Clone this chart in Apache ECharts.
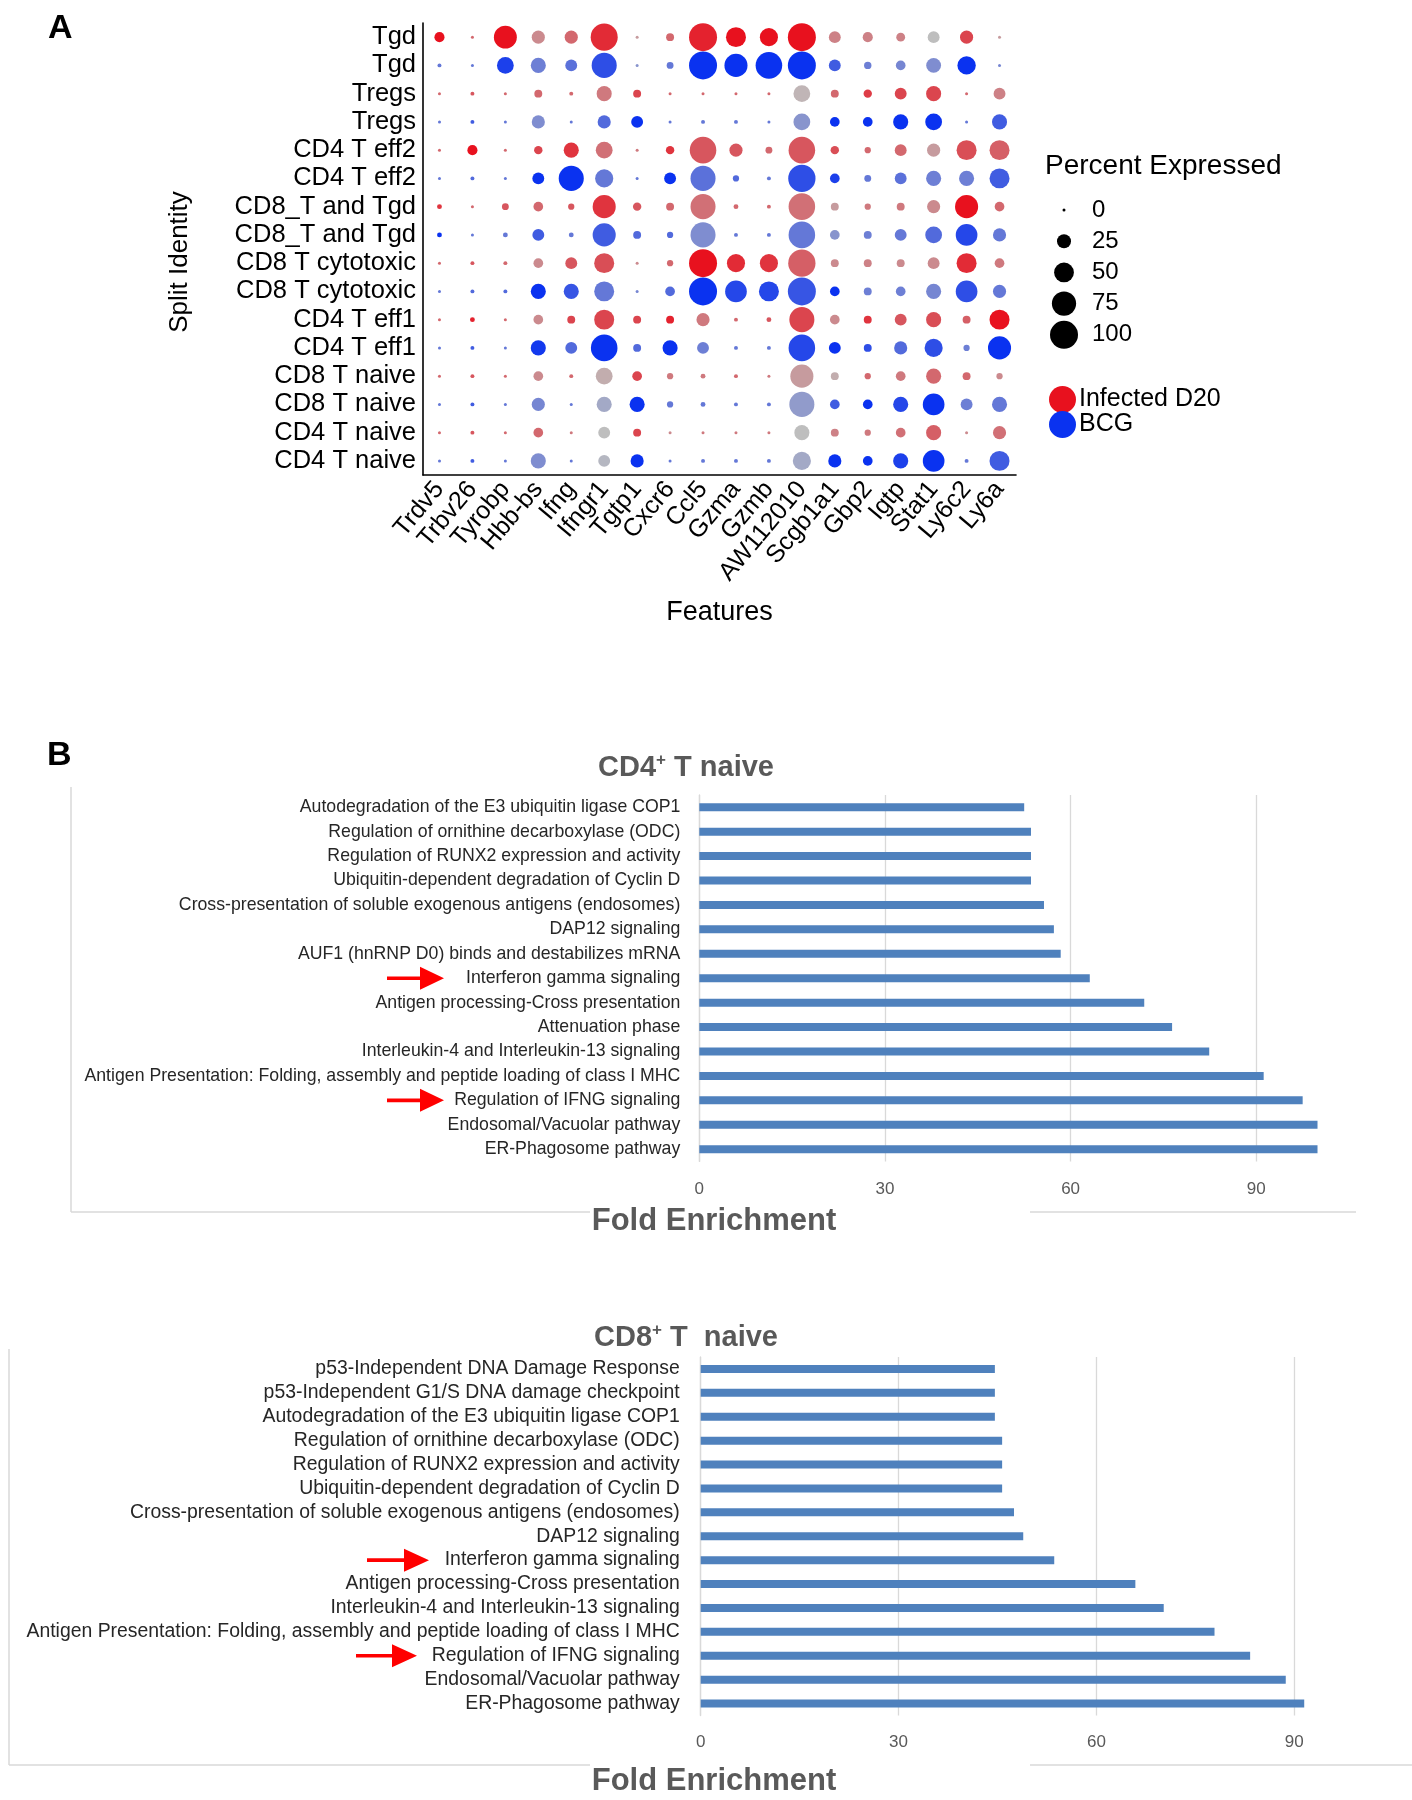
<!DOCTYPE html>
<html><head><meta charset="utf-8">
<script src="https://cdn.jsdelivr.net/npm/echarts@6/dist/echarts.min.js"></script>
<style>html,body{margin:0;padding:0;background:#fff}#c{width:1412px;height:1800px}</style>
</head><body><div id="c"></div>
<script>
// ---------- Panel A data ----------
const features = ['Trdv5','Trbv26','Tyrobp','Hbb-bs','Ifng','Ifngr1','Tgtp1','Cxcr6','Ccl5','Gzma','Gzmb','AW112010','Scgb1a1','Gbp2','Igtp','Stat1','Ly6c2','Ly6a'];
const cellTypes = ['Tgd','Tregs','CD4 T eff2','CD8_T and Tgd','CD8 T cytotoxic','CD4 T eff1','CD8 T naive','CD4 T naive'];
const groups = ['Infected D20','BCG'];
// percent expressed (0-100), one row per cell type, one column per feature
const infectedPct = [
 [13,1,67,22,22,93,1,8,100,51,42,100,18,13,10,18,22,1],
 [1,2,1,8,2,29,8,1,1,1,1,36,8,9,18,29,1,18],
 [1,13,1,9,29,36,1,9,90,22,6,90,9,5,18,22,51,51],
 [3,1,6,12,5,68,9,8,80,3,2,90,8,5,8,22,68,12],
 [1,2,2,12,18,51,1,5,100,42,42,95,8,8,8,18,51,12],
 [1,3,1,12,8,51,8,8,22,2,3,80,12,8,18,29,8,51],
 [1,2,1,12,2,36,12,5,3,2,1,68,8,5,12,29,8,5],
 [1,2,1,12,1,18,8,1,1,1,1,29,8,5,12,29,1,22]
];
// scaled average expression (0 = grey, 1 = full colour)
const infectedExp = [
 [1,0.5,1,0.3,0.5,0.85,0.2,0.5,0.9,1,1,1,0.35,0.35,0.35,0,0.7,0.2],
 [0.5,0.6,0.5,0.5,0.5,0.4,0.7,0.5,0.5,0.5,0.5,0.05,0.5,0.75,0.7,0.7,0.5,0.35],
 [0.5,1,0.5,0.7,0.8,0.45,0.4,0.8,0.6,0.6,0.5,0.6,0.65,0.5,0.5,0.2,0.65,0.55],
 [0.8,0.5,0.6,0.5,0.6,0.8,0.6,0.5,0.45,0.5,0.5,0.45,0.2,0.4,0.4,0.3,1,0.5],
 [0.5,0.6,0.5,0.3,0.6,0.65,0.3,0.5,1,0.85,0.8,0.55,0.3,0.35,0.3,0.3,0.85,0.4],
 [0.5,0.9,0.5,0.3,0.7,0.7,0.7,0.9,0.4,0.5,0.6,0.7,0.3,0.8,0.6,0.65,0.55,1],
 [0.5,0.6,0.5,0.3,0.5,0.1,0.7,0.4,0.4,0.5,0.4,0.2,0.1,0.5,0.4,0.5,0.5,0.3],
 [0.5,0.6,0.5,0.5,0.4,0,0.7,0.3,0.4,0.4,0.4,0,0.35,0.4,0.45,0.55,0.3,0.45]
];
const bcgPct = [
 [2,1,36,29,18,80,1,6,100,68,90,100,18,7,12,28,43,1],
 [1,2,1,22,1,22,18,1,2,2,1,36,12,12,29,36,1,29],
 [1,2,1,18,80,42,1,18,80,5,2,95,12,6,18,29,29,51],
 [3,1,3,18,3,68,8,5,80,2,2,90,12,8,18,36,60,22],
 [1,2,2,29,29,51,1,12,100,60,51,100,12,8,12,29,60,22],
 [1,2,1,29,18,90,8,29,18,2,2,90,18,8,22,42,5,68],
 [1,2,1,22,1,29,29,5,3,2,2,80,12,12,29,60,18,29],
 [1,2,1,29,1,18,22,1,2,2,2,42,22,12,29,60,2,51]
];
const bcgExp = [
 [0.5,0.5,0.9,0.45,0.55,0.8,0.3,0.5,1,1,1,1,0.7,0.45,0.4,0.35,1,0.4],
 [0.5,0.7,0.5,0.35,0.5,0.6,1,0.5,0.5,0.5,0.5,0.3,1,1,1,1,0.5,0.7],
 [0.5,0.6,0.5,1,1,0.5,0.5,1,0.55,0.6,0.5,0.8,0.9,0.5,0.55,0.45,0.45,0.7],
 [1,0.5,0.5,0.7,0.5,0.7,0.6,0.6,0.35,0.5,0.5,0.5,0.3,0.45,0.5,0.6,0.85,0.5],
 [0.5,0.6,0.6,1,0.75,0.5,0.4,0.6,1,0.85,0.85,0.75,1,0.45,0.45,0.4,0.8,0.5],
 [0.5,0.7,0.5,0.95,0.6,1,0.6,1,0.45,0.5,0.5,0.85,1,0.8,0.6,0.8,0.45,1],
 [0.5,0.7,0.5,0.4,0.5,0.15,1,0.5,0.5,0.5,0.5,0.25,0.7,1,0.85,1,0.45,0.5],
 [0.5,0.7,0.5,0.35,0.5,0.05,1,0.5,0.5,0.5,0.5,0.15,1,1,0.9,1,0.5,0.7]
];
const sizeBreaks = [0,25,50,75,100];

// ---------- Panel B data ----------
const cd4Terms = ['Autodegradation of the E3 ubiquitin ligase COP1','Regulation of ornithine decarboxylase (ODC)','Regulation of RUNX2 expression and activity','Ubiquitin-dependent degradation of Cyclin D','Cross-presentation of soluble exogenous antigens (endosomes)','DAP12 signaling','AUF1 (hnRNP D0) binds and destabilizes mRNA','Interferon gamma signaling','Antigen processing-Cross presentation','Attenuation phase','Interleukin-4 and Interleukin-13 signaling','Antigen Presentation: Folding, assembly and peptide loading of class I MHC','Regulation of IFNG signaling','Endosomal/Vacuolar pathway','ER-Phagosome pathway'];
const cd4Fold = [52.5,53.6,53.6,53.6,55.7,57.3,58.4,63.1,71.9,76.4,82.4,91.2,97.5,99.9,99.9];
const cd8Terms = ['p53-Independent DNA Damage Response','p53-Independent G1/S DNA damage checkpoint','Autodegradation of the E3 ubiquitin ligase COP1','Regulation of ornithine decarboxylase (ODC)','Regulation of RUNX2 expression and activity','Ubiquitin-dependent degradation of Cyclin D','Cross-presentation of soluble exogenous antigens (endosomes)','DAP12 signaling','Interferon gamma signaling','Antigen processing-Cross presentation','Interleukin-4 and Interleukin-13 signaling','Antigen Presentation: Folding, assembly and peptide loading of class I MHC','Regulation of IFNG signaling','Endosomal/Vacuolar pathway','ER-Phagosome pathway'];
const cd8Fold = [44.6,44.6,44.6,45.7,45.7,45.7,47.5,48.9,53.6,65.9,70.2,77.9,83.3,88.7,91.5];
const arrowTerms = ['Interferon gamma signaling','Regulation of IFNG signaling'];

// ---------- helpers ----------
const FONT = 'Liberation Sans';
const GREY = [190,190,190], RED = [232,17,30], BLUE = [10,50,240];
function mix(c, t){ return 'rgb(' + c.map((v,i)=>Math.round(GREY[i] + (v-GREY[i])*t)).join(',') + ')'; }
function dia(p){ return Math.max(3, 28*Math.sqrt(p/100)); }
const rowLabels = [];
cellTypes.forEach(c => { rowLabels.push(c, c); });
function buildDots(pct, exp, off, col){
  const out = [];
  pct.forEach((row, r) => row.forEach((p, c) => out.push({value:[c, r*2+off, p, exp[r][c]], itemStyle:{color: mix(col, exp[r][c])}})));
  return out;
}

const chart = echarts.init(document.getElementById('c'), null, {renderer:'canvas'});

const sizeLegend = [];
sizeBreaks.forEach((b, i) => {
  const y = 210 + i*31.2;
  sizeLegend.push({type:'circle', shape:{cx:1064, cy:y, r:dia(b)/2}, style:{fill:'#000'}});
  sizeLegend.push({type:'text', x:1092, y:y, style:{text:String(b), fontSize:24, fontFamily:FONT, fill:'#000', textVerticalAlign:'middle'}});
});

const richTitle = {a:{fontSize:29, fontWeight:'bold', color:'#595959', fontFamily:FONT, lineHeight:32},
                   s:{fontSize:17, fontWeight:'bold', color:'#595959', fontFamily:FONT, verticalAlign:'top', lineHeight:17}};

const option = {
  animation:false,
  backgroundColor:'#fff',
  textStyle:{fontFamily:FONT},
  title:[
    {text:'A', left:48, top:12, padding:0, textStyle:{fontSize:34, fontWeight:'bold', color:'#000', fontFamily:FONT}},
    {text:'B', left:47, top:739, padding:0, textStyle:{fontSize:34, fontWeight:'bold', color:'#000', fontFamily:FONT}},
    {text:'{a|CD4}{s|+}{a| T naive}', left:686, top:752, padding:0, textAlign:'center', textStyle:{rich:richTitle}},
    {text:'{a|CD8}{s|+}{a| T  naive}', left:686, top:1322, padding:0, textAlign:'center', textStyle:{rich:richTitle}},
    {text:'Fold Enrichment', left:714, top:1206, padding:0, textAlign:'center', textStyle:{fontSize:31, fontWeight:'bold', color:'#595959', fontFamily:FONT}},
    {text:'Fold Enrichment', left:714, top:1766, padding:0, textAlign:'center', textStyle:{fontSize:31, fontWeight:'bold', color:'#595959', fontFamily:FONT}},
    {text:'Percent Expressed', left:1045, top:152, padding:0, textStyle:{fontSize:28, fontWeight:'normal', color:'#000', fontFamily:FONT}}
  ],
  legend:{data:groups, orient:'vertical', left:1044, top:381, itemWidth:27, itemHeight:27, itemGap:-2, icon:'circle',
    textStyle:{fontSize:25, color:'#000', fontFamily:FONT, padding:[0,0,0,-2]}},
  grid:[
    {left:423, top:23, width:593, height:452, outerBoundsMode:'none', containLabel:false},
    {left:699.3, top:795, width:742.6, height:366.4, outerBoundsMode:'none', containLabel:false},
    {left:700.7, top:1357, width:791.5, height:358.5, outerBoundsMode:'none', containLabel:false}
  ],
  xAxis:[
    {gridIndex:0, type:'category', data:features, name:'Features', nameLocation:'middle', nameGap:124,
      nameTextStyle:{fontSize:27, color:'#000', fontFamily:FONT},
      axisLine:{lineStyle:{color:'#000', width:1.6}}, axisTick:{alignWithLabel:true, length:6, lineStyle:{color:'#000', width:1.6}},
      axisLabel:{rotate:50, fontSize:25, color:'#000', margin:10, interval:0, fontFamily:FONT}, splitLine:{show:false}},
    {gridIndex:1, type:'value', min:0, max:120, interval:30, axisLine:{show:false}, axisTick:{show:false},
      splitLine:{lineStyle:{color:'#d9d9d9', width:1.3}}, axisLabel:{color:'#595959', fontSize:17, margin:19, fontFamily:FONT}},
    {gridIndex:2, type:'value', min:0, max:120, interval:30, axisLine:{show:false}, axisTick:{show:false},
      splitLine:{lineStyle:{color:'#d9d9d9', width:1.3}}, axisLabel:{color:'#595959', fontSize:17, margin:18, fontFamily:FONT}}
  ],
  yAxis:[
    {gridIndex:0, type:'category', data:rowLabels, inverse:true,
      axisLine:{lineStyle:{color:'#000', width:1.6}}, axisTick:{alignWithLabel:true, length:6, lineStyle:{color:'#000', width:1.6}},
      axisLabel:{fontSize:25.5, color:'#000', margin:7, interval:0, fontFamily:FONT}, splitLine:{show:false}},
    {gridIndex:1, type:'category', data:cd4Terms, inverse:true, axisLine:{lineStyle:{color:'#d9d9d9', width:1.3}}, axisTick:{show:false},
      axisLabel:{fontSize:17.7, color:'#262626', fontFamily:FONT, interval:0, margin:19}},
    {gridIndex:2, type:'category', data:cd8Terms, inverse:true, axisLine:{lineStyle:{color:'#d9d9d9', width:1.3}}, axisTick:{show:false},
      axisLabel:{fontSize:19.4, color:'#262626', fontFamily:FONT, interval:0, margin:21}}
  ],
  series:[
    {type:'scatter', name:groups[0], xAxisIndex:0, yAxisIndex:0, data:buildDots(infectedPct, infectedExp, 0, RED),
      symbolSize:v=>dia(v[2]), itemStyle:{color:'rgb(232,17,30)', opacity:1}, z:3},
    {type:'scatter', name:groups[1], xAxisIndex:0, yAxisIndex:0, data:buildDots(bcgPct, bcgExp, 1, BLUE),
      symbolSize:v=>dia(v[2]), itemStyle:{color:'rgb(10,50,240)', opacity:1}, z:3},
    {type:'bar', name:'CD4 naive', xAxisIndex:1, yAxisIndex:1, data:cd4Fold, barWidth:8, itemStyle:{color:'#4f81bd'}},
    {type:'bar', name:'CD8 naive', xAxisIndex:2, yAxisIndex:2, data:cd8Fold, barWidth:8, itemStyle:{color:'#4f81bd'}}
  ]
};
chart.setOption(option);

// annotations: grey frames, split identity label, size legend, red arrows
function arrow(x0, x1, x2, y){
  return {type:'polygon', shape:{points:[[x0,y-1.8],[x1,y-1.8],[x1,y-11.5],[x2,y],[x1,y+11.5],[x1,y+1.8],[x0,y+1.8]]}, style:{fill:'#ff0000'}};
}
const g = [];
g.push({type:'text', x:180, y:262, rotation:Math.PI/2, style:{text:'Split Identity', fontSize:26, fontFamily:FONT, fill:'#000', textAlign:'center', textVerticalAlign:'middle'}});
sizeLegend.forEach(e => g.push(e));
const frame = {stroke:'#d9d9d9', lineWidth:1.5};
g.push({type:'line', shape:{x1:71, y1:787, x2:71, y2:1212}, style:frame});
g.push({type:'line', shape:{x1:71, y1:1212, x2:590, y2:1212}, style:frame});
g.push({type:'line', shape:{x1:1030, y1:1212, x2:1356, y2:1212}, style:frame});
g.push({type:'line', shape:{x1:9, y1:1349, x2:9, y2:1765}, style:frame});
g.push({type:'line', shape:{x1:9, y1:1765, x2:590, y2:1765}, style:frame});
g.push({type:'line', shape:{x1:1030, y1:1765, x2:1412, y2:1765}, style:frame});
const a1 = arrowTerms.map(t => chart.convertToPixel({yAxisIndex:1}, cd4Terms.indexOf(t)));
const a2 = arrowTerms.map(t => chart.convertToPixel({yAxisIndex:2}, cd8Terms.indexOf(t)));
g.push(arrow(387, 420, 444, a1[0]));
g.push(arrow(387, 420, 444, a1[1]));
g.push(arrow(367, 404, 429, a2[0]));
g.push(arrow(356, 392, 417, a2[1]));
chart.setOption({graphic:g});
</script></body></html>
